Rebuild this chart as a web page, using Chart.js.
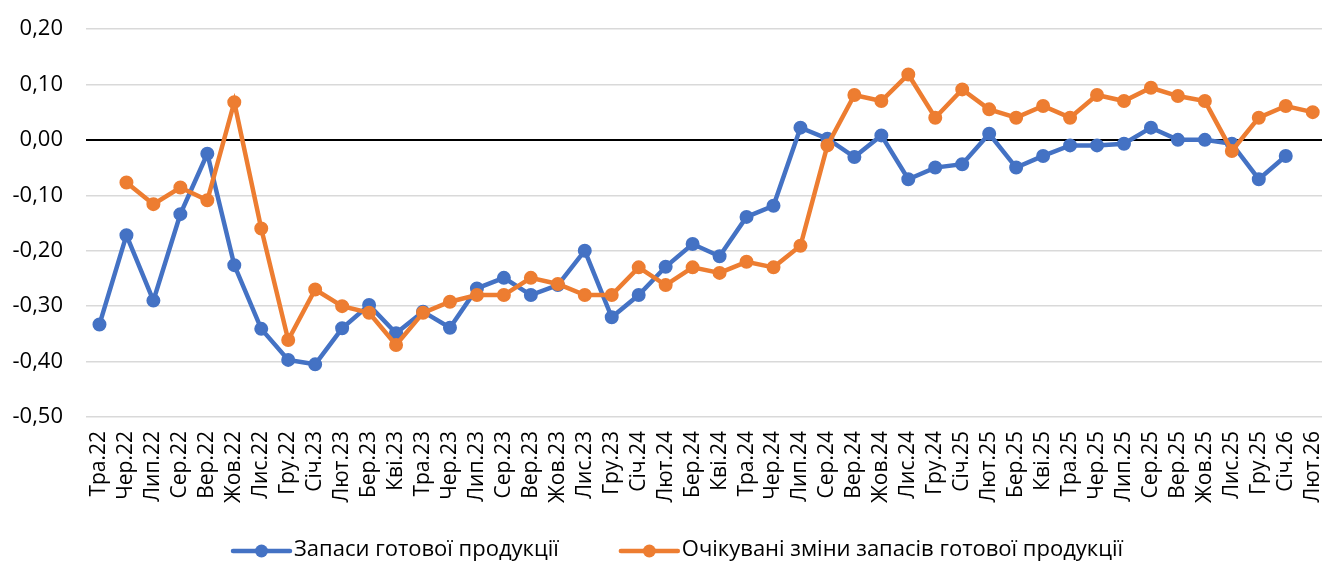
<!DOCTYPE html>
<html>
<head>
<meta charset="utf-8">
<script src="https://cdn.jsdelivr.net/npm/chart.js@4/dist/chart.umd.min.js"></script>
<style>
  html, body { margin: 0; padding: 0; background: #fff; overflow: hidden; }
  #wrap { width: 1352px; height: 561px; }
</style>
</head>
<body>
<div id="wrap"><canvas id="c" width="1352" height="561"></canvas></div>
<script>
const categories = ["Тра.22","Чер.22","Лип.22","Сер.22","Вер.22","Жов.22","Лис.22","Гру.22","Січ.23","Лют.23","Бер.23","Кві.23","Тра.23","Чер.23","Лип.23","Сер.23","Вер.23","Жов.23","Лис.23","Гру.23","Січ.24","Лют.24","Бер.24","Кві.24","Тра.24","Чер.24","Лип.24","Сер.24","Вер.24","Жов.24","Лис.24","Гру.24","Січ.25","Лют.25","Бер.25","Кві.25","Тра.25","Чер.25","Лип.25","Сер.25","Вер.25","Жов.25","Лис.25","Гру.25","Січ.26","Лют.26"];

const seriesNames = ["Запаси готової продукції", "Очікувані зміни запасів готової продукції"];

const stocks = [-0.333,-0.172,-0.29,-0.134,-0.025,-0.226,-0.341,-0.397,-0.405,-0.34,-0.298,-0.349,-0.31,-0.339,-0.268,-0.249,-0.28,-0.262,-0.2,-0.32,-0.28,-0.229,-0.188,-0.21,-0.139,-0.119,0.022,0.002,-0.031,0.008,-0.071,-0.05,-0.044,0.011,-0.05,-0.029,-0.01,-0.01,-0.007,0.022,0.0,0.0,-0.007,-0.071,-0.029,null];

const expected = [null,-0.077,-0.116,-0.086,-0.109,0.068,-0.16,-0.361,-0.27,-0.30,-0.312,-0.37,-0.312,-0.292,-0.28,-0.28,-0.249,-0.26,-0.28,-0.28,-0.23,-0.262,-0.23,-0.24,-0.22,-0.23,-0.191,-0.01,0.081,0.07,0.118,0.04,0.091,0.055,0.04,0.061,0.04,0.081,0.07,0.094,0.079,0.07,-0.02,0.04,0.061,0.05];

const yMin = -0.5, yMax = 0.2, yStep = 0.1;

const BLUE = '#4472C4', ORANGE = '#ED7D31';
const FONT = "'Open Sans', 'Liberation Sans', sans-serif";

const legendPlugin = {
  id: 'bottomLegend',
  afterDraw(chart) {
    const ctx = chart.ctx;
    const items = chart.data.datasets.map(d => ({ text: d.label, color: d.borderColor }));
    ctx.save();
    ctx.font = '22px ' + FONT;
    ctx.textBaseline = 'middle';
    ctx.textAlign = 'left';
    const lineLen = 57, gapText = 4, gapItem = 62;
    let x = 233;
    const y = 551;
    items.forEach((it) => {
      ctx.strokeStyle = it.color;
      ctx.lineWidth = 4.5;
      ctx.lineCap = 'round';
      ctx.beginPath();
      ctx.moveTo(x, y);
      ctx.lineTo(x + lineLen, y);
      ctx.stroke();
      ctx.fillStyle = it.color;
      ctx.beginPath();
      ctx.arc(x + lineLen / 2, y, 6.5, 0, Math.PI * 2);
      ctx.fill();
      x += lineLen + gapText;
      ctx.fillStyle = '#000';
      ctx.fillText(it.text, x, y - 1);
      x += ctx.measureText(it.text).width + gapItem;
    });
    ctx.restore();
  }
};

new Chart(document.getElementById('c'), {
  type: 'line',
  data: {
    labels: categories,
    datasets: [
      {
        label: seriesNames[0],
        data: stocks,
        borderColor: BLUE,
        backgroundColor: BLUE,
        borderWidth: 4.5,
        pointRadius: 6,
        pointBorderWidth: 2,
        pointBorderColor: BLUE,
        pointBackgroundColor: BLUE,
        tension: 0,
        order: 1
      },
      {
        label: seriesNames[1],
        data: expected,
        borderColor: ORANGE,
        backgroundColor: ORANGE,
        borderWidth: 4.5,
        pointRadius: 6,
        pointBorderWidth: 2,
        pointBorderColor: ORANGE,
        pointBackgroundColor: ORANGE,
        tension: 0,
        order: 0
      }
    ]
  },
  options: {
    responsive: false,
    animation: false,
    devicePixelRatio: 1,
    layout: { padding: { top: 29, left: 0, right: 0, bottom: 0 } },
    plugins: {
      legend: { display: false },
      tooltip: { enabled: false }
    },
    scales: {
      x: {
        type: 'category',
        offset: true,
        grid: { display: false, drawTicks: false },
        border: { display: false },
        ticks: {
          color: '#000',
          font: { family: FONT, size: 21 },
          minRotation: 90,
          maxRotation: 90,
          autoSkip: false,
          padding: 14
        },
        afterFit(scale) { scale.height = 144; }
      },
      y: {
        min: yMin,
        max: yMax,
        grid: {
          drawTicks: false,
          color: ctx => (Math.abs(ctx.tick.value) < 1e-9 ? '#000' : '#d9d9d9'),
          lineWidth: ctx => (Math.abs(ctx.tick.value) < 1e-9 ? 2 : 1.5)
        },
        border: { display: false },
        ticks: {
          stepSize: yStep,
          color: '#000',
          font: { family: FONT, size: 22 },
          padding: 23,
          callback: v => (Math.round(v * 100) / 100).toFixed(2).replace('.', ',').replace('-0,00', '0,00')
        },
        afterFit(scale) {
          scale.width = 86;
          scale.paddingTop = 0;
          scale.paddingBottom = 0;
        }
      }
    }
  },
  plugins: [legendPlugin]
});
</script>
</body>
</html>
